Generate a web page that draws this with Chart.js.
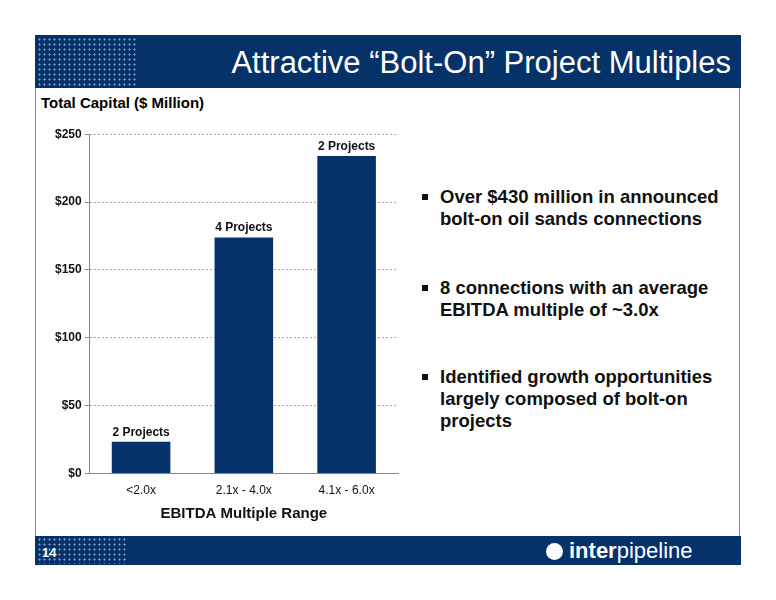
<!DOCTYPE html>
<html>
<head>
<meta charset="utf-8">
<script src="https://cdn.jsdelivr.net/npm/chart.js@4"></script>
<style>
  body { margin:0; width:776px; height:600px; background:#fff; font-family:"Liberation Sans", Arial, sans-serif; position:relative; overflow:hidden; }
  .frame { position:absolute; left:35px; top:35px; width:705px; height:530px; border:1px solid #888; box-sizing:border-box; }
  .head { position:absolute; left:35px; top:35px; width:706px; height:53px; background:#06326a; }
  .dots { position:absolute; background-image:radial-gradient(#7c97bd 0.9px, transparent 1.2px); background-size:5px 5px; }
  .title { position:absolute; right:45px; top:45px; color:#fff; font-size:31px; }
  .foot { position:absolute; left:35px; top:536px; width:706px; height:29px; background:#06326a; }
  .ytitle { position:absolute; left:41px; top:94px; font-size:15px; font-weight:bold; }
  .bul { position:absolute; left:414px; font-size:18.5px; font-weight:bold; color:#111; line-height:22px; padding-left:26px; }
  .bul:before { content:""; position:absolute; left:8px; top:8px; width:6px; height:6px; background:#111; }
  #wrap { position:absolute; left:52px; top:124px; width:356px; height:399px; }
</style>
</head>
<body>
<div class="frame"></div>
<div class="head"></div>
<div class="dots" style="left:37px;top:37px;width:100px;height:50px"></div>
<div class="title">Attractive “Bolt-On” Project Multiples</div>
<div class="ytitle">Total Capital ($ Million)</div>
<div id="wrap"><canvas id="c"></canvas></div>
<div class="bul" style="top:186px">Over $430 million in announced<br>bolt-on oil sands connections</div>
<div class="bul" style="top:277px">8 connections with an average<br>EBITDA multiple of ~3.0x</div>
<div class="bul" style="top:366px">Identified growth opportunities<br>largely composed of bolt-on<br>projects</div>
<div class="foot"></div>
<div class="dots" style="left:37px;top:537px;width:90px;height:27px"></div>
<div style="position:absolute;left:42px;top:545px;color:#fff;font-size:13px;font-weight:bold">14</div>
<div style="position:absolute;left:546px;top:538px;color:#fff;font-size:22px"><span style="display:inline-block;width:17px;height:17px;border-radius:50%;background:#fff;vertical-align:-2px;margin-right:6px"></span><b>inter</b>pipeline</div>
<script>
const categories = ["<2.0x", "2.1x - 4.0x", "4.1x - 6.0x"];
const capital = [23.5, 174, 234];
const barLabels = ["2 Projects", "4 Projects", "2 Projects"];

const labelPlugin = {
  id: "barLabels",
  afterDatasetsDraw(chart) {
    const ctx = chart.ctx;
    ctx.save();
    ctx.font = "bold 12px 'Liberation Sans', Arial";
    ctx.fillStyle = "#111";
    ctx.textAlign = "center";
    chart.getDatasetMeta(0).data.forEach((bar, i) => {
      ctx.fillText(barLabels[i], bar.x, bar.y - 6);
    });
    ctx.restore();
  }
};

new Chart(document.getElementById("c"), {
  type: "bar",
  data: { labels: categories, datasets: [{ data: capital, backgroundColor: "#06326a", categoryPercentage: 0.57, barPercentage: 1 }] },
  options: {
    responsive: true, maintainAspectRatio: false, animation: false,
    layout: { padding: { top: 2, right: 10 } },
    plugins: { legend: { display: false }, tooltip: { enabled: false } },
    scales: {
      y: {
        min: 0, max: 250,
        ticks: { stepSize: 50, color: "#111", font: { size: 12, weight: "bold", family: "Liberation Sans" }, callback: v => "$" + v },
        grid: { color: "#aaa", tickColor: "#888", tickLength: 5 },
        border: { color: "#888", dash: [2, 2] }
      },
      x: {
        ticks: { color: "#111", font: { size: 12, family: "Liberation Sans" }, padding: 2 },
        grid: { display: false },
        border: { color: "#888" },
        title: { display: true, text: "EBITDA Multiple Range", color: "#111", font: { size: 15, weight: "bold", family: "Liberation Sans" }, padding: { top: 5, bottom: 0 } }
      }
    }
  },
  plugins: [labelPlugin]
});
</script>
</body>
</html>
